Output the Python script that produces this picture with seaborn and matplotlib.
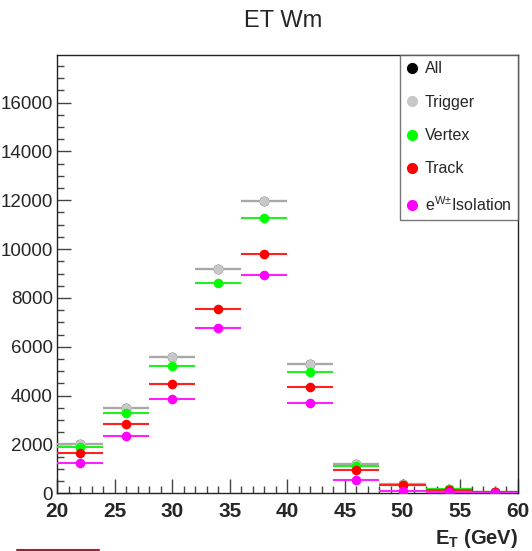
import numpy as np
import pandas as pd
import matplotlib
matplotlib.use("Agg")
import matplotlib.pyplot as plt
from matplotlib.lines import Line2D
from matplotlib.ticker import MultipleLocator
import seaborn as sns

# ---- data ----
bin_centers = [22, 26, 30, 34, 38, 42, 46, 50, 54, 58]
bin_half_width = 2
all_counts = [2020, 3490, 5600, 9180, 11990, 5300, 1190, 370, 175, 65]
trigger_counts = [2020, 3490, 5600, 9180, 11990, 5300, 1190, 370, 175, 65]
vertex_counts = [1880, 3290, 5230, 8610, 11270, 4970, 1100, 330, 160, 55]
track_counts = [1640, 2840, 4490, 7530, 9780, 4350, 950, 320, 130, 40]
isolation_counts = [1240, 2350, 3860, 6750, 8920, 3700, 560, 100, 40, 15]
series_names = ["All", "Trigger", "Vertex", "Track", "e$^{\\mathrm{W\u00b1}}$Isolation"]

sns.set_style("ticks")
plt.rcParams['font.family'] = ['Liberation Sans', 'DejaVu Sans']
plt.rcParams['mathtext.fontset'] = 'custom'
plt.rcParams['mathtext.rm'] = 'Liberation Sans'
plt.rcParams['mathtext.it'] = 'Liberation Sans:italic'
plt.rcParams['mathtext.bf'] = 'Liberation Sans:bold'

series_values = [all_counts, trigger_counts, vertex_counts, track_counts, isolation_counts]
frames = []
for name, vals in zip(series_names, series_values):
    frames.append(pd.DataFrame({"ET": bin_centers, "count": vals, "series": name}))
df = pd.concat(frames, ignore_index=True)

marker_colors = ["#000000", "#c8c8c8", "#00ff00", "#ff0000", "#ff00ff"]
line_colors = ["#000000", "#a8a8a8", "#22ee22", "#ff2020", "#ff20ff"]
palette = dict(zip(series_names, marker_colors))

fig = plt.figure(figsize=(5.32, 5.51), dpi=100)
ax = fig.add_axes([57 / 532, 1 - 493.3 / 551, (517.7 - 57) / 532, (493.3 - 55) / 551])

for i, name in enumerate(series_names):
    sub = df[df["series"] == name]
    ax.hlines(sub["count"], sub["ET"] - bin_half_width, sub["ET"] + bin_half_width,
              colors=line_colors[i], linewidth=1.5, zorder=2 + 2 * i)
    sns.scatterplot(data=sub, x="ET", y="count", color=palette[name], s=48,
                    edgecolor=palette[name], linewidth=0, ax=ax, zorder=3 + 2 * i,
                    legend=False)

ax.set_xlim(20, 60)
ax.set_ylim(0, 17950)
ax.xaxis.set_major_locator(MultipleLocator(5))
ax.xaxis.set_minor_locator(MultipleLocator(1))
ax.yaxis.set_major_locator(MultipleLocator(2000))
ax.yaxis.set_minor_locator(MultipleLocator(500))
ax.tick_params(axis='both', which='both', direction='in', top=False, right=False,
               color='#444444', width=1)
ax.tick_params(axis='y', which='major', length=10, labelsize=13.5, pad=3)
ax.tick_params(axis='y', which='minor', length=5)
ax.tick_params(axis='x', which='major', length=10, labelsize=15, pad=6)
ax.tick_params(axis='x', which='minor', length=5)
for lab in ax.get_xticklabels():
    lab.set_fontweight('bold')
for sp in ax.spines.values():
    sp.set_color('#222222')
    sp.set_linewidth(1)

ax.set_ylabel("")
ax.set_xlabel("E$_\\mathbf{T}$ (GeV)", fontsize=14.5, fontweight='bold', loc='right')
ax.xaxis.set_label_coords(1.0, -0.078)

handles = [Line2D([0], [0], marker='o', linestyle='none', markersize=7,
                  markerfacecolor=c, markeredgecolor=c) for c in marker_colors]
leg = ax.legend(handles, series_names, loc='upper right', bbox_to_anchor=(1, 1),
                borderaxespad=0, frameon=True, fancybox=False, fontsize=11.5,
                handlelength=0.7, handletextpad=0.45, labelspacing=1.15,
                borderpad=0.4)
leg.get_frame().set_edgecolor('#555555')
leg.get_frame().set_linewidth(1)

fig.text(283 / 532, 1 - 21 / 551, "ET Wm", ha='center', va='center', fontsize=17)
fig.add_artist(Line2D([17 / 532, 99 / 532], [1 - 550 / 551, 1 - 550 / 551],
                      color='#a0203a', linewidth=1.5, transform=fig.transFigure))

fig.savefig("out.png", dpi=100)
